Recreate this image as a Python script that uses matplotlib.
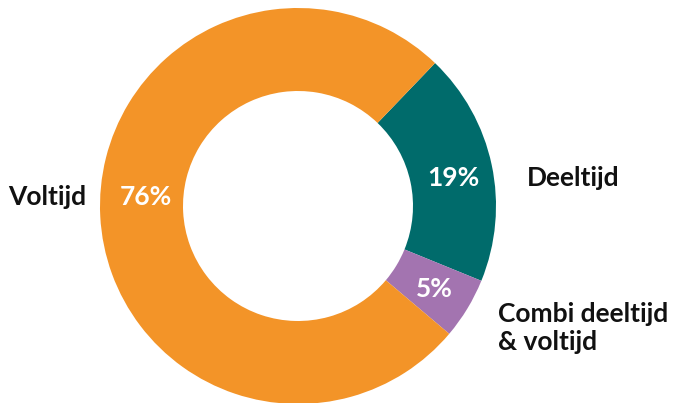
import matplotlib
matplotlib.use("Agg")
import matplotlib.pyplot as plt

categories = ["Deeltijd", "Combi deeltijd\n& voltijd", "Voltijd"]
values = [19, 5, 76]
pct_labels = ["19%", "5%", "76%"]
colors = ["#006B6B", "#A374B0", "#F39428"]

plt.rcParams['font.family'] = ['Lato', 'DejaVu Sans']

W, H = 678, 403
fig = plt.figure(figsize=(W/100, H/100), dpi=100)
ax = fig.add_axes([0, 0, 1, 1])

cx, cy, R, r = 298, 206, 198, 115
# y axis is inverted below, so angles are mirrored: counterclock here = clockwise on screen
wedges, _ = ax.pie(values, colors=colors, startangle=-46.2, counterclock=True,
                   center=(cx, cy), radius=R, frame=True,
                   wedgeprops=dict(width=R - r, linewidth=0))
ax.set_xlim(0, W)
ax.set_ylim(H, 0)
ax.set_aspect('equal')
ax.axis('off')

# percentage labels
pct_pos = [(453, 178), (434, 289), (146, 197)]
for (x, y), t in zip(pct_pos, pct_labels):
    ax.text(x, y, t, ha='center', va='center', color='white', fontsize=19,
            fontweight='bold')

# category labels
cat_pos = [(527, 178, 'left'), (498, 328, 'left'), (8, 197, 'left')]
for (x, y, ha), t in zip(cat_pos, categories):
    ax.text(x, y, t, ha=ha, va='center', color='#111111', fontsize=19,
            fontweight='bold', linespacing=1.2)

fig.savefig("out.png", dpi=100)
